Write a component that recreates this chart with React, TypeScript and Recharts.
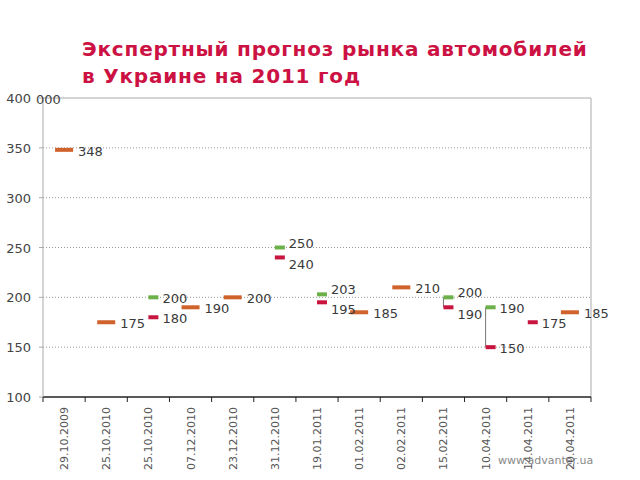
import React from 'react'
import {
  ComposedChart,
  Scatter,
  XAxis,
  YAxis,
  CartesianGrid,
  ReferenceLine,
} from 'recharts'

const dates = [
  '29.10.2009', '25.10.2010', '25.10.2010', '07.12.2010', '23.12.2010', '31.12.2010',
  '19.01.2011', '01.02.2011', '02.02.2011', '15.02.2011', '10.04.2010', '14.04.2011', '20.04.2011',
]
// single forecast (orange)
const forecast = [348, 175, null, 190, 200, null, null, 185, 210, null, null, null, 185]
// upper bound (green)
const high = [null, null, 200, null, null, 250, 203, null, null, 200, 190, null, null]
// lower bound (red)
const low = [null, null, 180, null, null, 240, 195, null, null, 190, 150, 175, null]
// categories where high and low are joined by a line
const joined = [9, 10]
const yTicks = [100, 150, 200, 250, 300, 350, 400]

const FONT = '"DejaVu Sans", Verdana, sans-serif'

const toPoints = (arr) =>
  arr
    .map((v, i) => (v == null ? null : { x: i + 0.5, y: v, i }))
    .filter(Boolean)

const labelShift = (i, kind) => {
  const h = high[i]
  const l = low[i]
  if (h == null || l == null || h - l > 10) return 0
  return kind === 'high' ? -6 : 6
}

const makeShape = (color, kind) => (props) => {
  const { cx, cy, payload } = props
  const wide = kind === 'mid'
  const x0 = wide ? cx - 9 : cx
  const w = wide ? 18 : 10
  const dy = wide ? 0 : labelShift(payload.i, kind)
  return (
    <g>
      <rect x={x0} y={cy - 2} width={w} height={4} fill={color} />
      <text x={cx + 14} y={cy + 6 + dy} fontSize={13} fontFamily={FONT} fill="#3a3a3a">
        {payload.y}
      </text>
    </g>
  )
}

const XTick = (props) => {
  const { x, y, payload, band } = props
  const idx = payload.value
  return (
    <g>
      <line x1={x} y1={y - 8} x2={x} y2={y - 3} stroke="#222" />
      {idx < dates.length && (
        <text
          transform={`translate(${x + band / 2 + 4}, ${y + 2}) rotate(-90)`}
          textAnchor="end"
          fontSize={11}
          fontFamily={FONT}
          fill="#555"
        >
          {dates[idx]}
        </text>
      )}
    </g>
  )
}

const YTick = (props) => {
  const { x, y, payload } = props
  return (
    <g>
      <text x={x - 6} y={y + 5} textAnchor="end" fontSize={13} fontFamily={FONT} fill="#444">
        {payload.value}
      </text>
      {payload.value === 400 && (
        <text x={x - 1} y={y + 6} fontSize={13} fontFamily={FONT} fill="#444">
          000
        </text>
      )}
    </g>
  )
}

export default function App() {
  const band = (591 - 43) / dates.length
  return (
    <div style={{ position: 'absolute', left: 0, top: 0, width: 640, height: 480, background: '#fff' }}>
      <div
        style={{
          position: 'absolute',
          left: 82,
          top: 36,
          fontFamily: FONT,
          fontWeight: 'bold',
          fontSize: 20,
          letterSpacing: '0.8px',
          lineHeight: '27px',
          color: '#cc1143',
          whiteSpace: 'nowrap',
        }}
      >
        Экспертный прогноз рынка автомобилей
        <br />
        в Украине на 2011 год
      </div>
      <ComposedChart
        width={640}
        height={480}
        margin={{ top: 98, right: 49, bottom: 0, left: 0 }}
      >
        <CartesianGrid
          horizontal
          vertical={false}
          stroke="#999"
          strokeDasharray="1 2"
          horizontalValues={[150, 200, 250, 300, 350]}
        />
        <XAxis
          type="number"
          dataKey="x"
          domain={[0, dates.length]}
          ticks={dates.map((_, i) => i).concat(dates.length)}
          height={83}
          stroke="#222"
          strokeWidth={1.5}
          tickLine={false}
          tick={<XTick band={band} />}
          interval={0}
        />
        <YAxis
          type="number"
          dataKey="y"
          domain={[100, 400]}
          ticks={yTicks}
          width={43}
          stroke="#aaa"
          tickSize={4}
          tickLine={{ stroke: '#aaa' }}
          tick={<YTick />}
          interval={0}
        />
        <ReferenceLine y={400} stroke="#aaa" />
        <ReferenceLine x={dates.length} stroke="#aaa" />
        {joined.map((i) => (
          <ReferenceLine
            key={i}
            segment={[{ x: i + 0.5, y: high[i] }, { x: i + 0.5, y: low[i] }]}
            stroke="#777"
          />
        ))}
        <Scatter data={toPoints(forecast)} shape={makeShape('#d0622c', 'mid')} isAnimationActive={false} />
        <Scatter data={toPoints(high)} shape={makeShape('#6cb04a', 'high')} isAnimationActive={false} />
        <Scatter data={toPoints(low)} shape={makeShape('#c8153f', 'low')} isAnimationActive={false} />
      </ComposedChart>
      <div
        style={{
          position: 'absolute',
          left: 498,
          top: 454,
          fontFamily: FONT,
          fontSize: 11,
          color: '#888',
        }}
      >
        www.advanter.ua
      </div>
    </div>
  )
}
